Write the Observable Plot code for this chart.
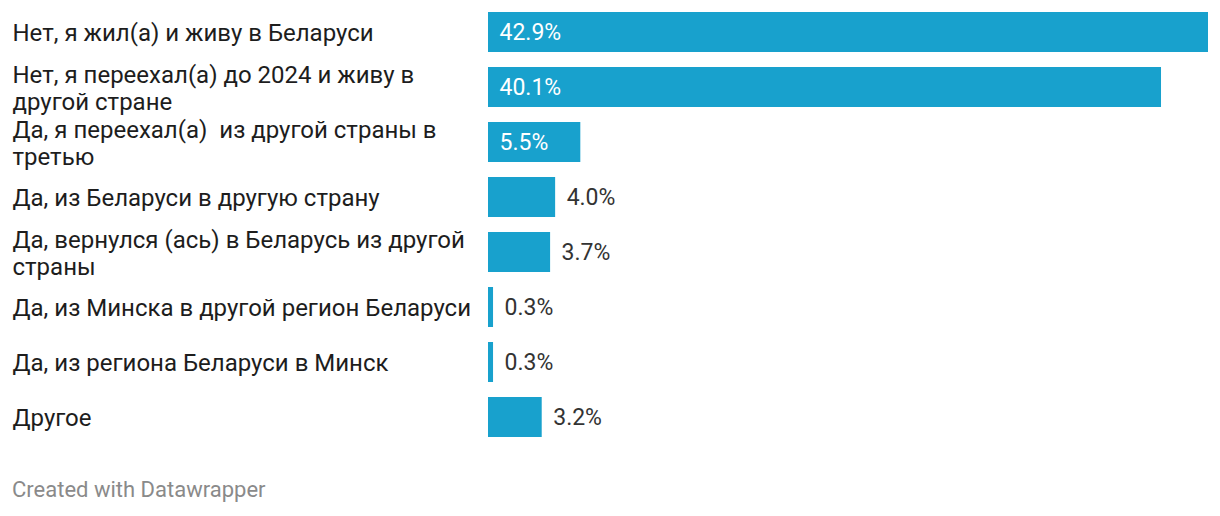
<!DOCTYPE html>
<html><head><meta charset="utf-8">
<script src="https://cdn.jsdelivr.net/npm/d3@7"></script>
<script src="https://cdn.jsdelivr.net/npm/@observablehq/plot@0.6"></script>
<style>
body{margin:0;background:#fff;font-family:Roboto,sans-serif}
#chart svg{display:block}
#footer{margin-top:31px;padding-left:12px;font-family:Roboto,sans-serif;font-size:22px;line-height:26px;color:#8a8a8a}
</style></head>
<body><div id="chart"></div><div id="footer">Created with Datawrapper</div>
<script>
const categories = [
  "Нет, я жил(а) и живу в Беларуси",
  "Нет, я переехал(а) до 2024 и живу в\nдругой стране",
  "Да, я переехал(а)  из другой страны в\nтретью",
  "Да, из Беларуси в другую страну",
  "Да, вернулся (ась) в Беларусь из другой\nстраны",
  "Да, из Минска в другой регион Беларуси",
  "Да, из региона Беларуси в Минск",
  "Другое"
];
const values = [42.9, 40.1, 5.5, 4.0, 3.7, 0.3, 0.3, 3.2];
const valueLabels = ["42.9%", "40.1%", "5.5%", "4.0%", "3.7%", "0.3%", "0.3%", "3.2%"];

const data = categories.map((c, i) => ({category: c, value: values[i], label: valueLabels[i], inside: values[i] >= 5}));
const barColor = "#18a1cd";

const chart = Plot.plot({
  width: 1220, height: 446,
  marginTop: 10, marginBottom: 8, marginLeft: 488, marginRight: 12,
  x: {domain: [0, d3.max(values)], axis: null},
  y: {domain: categories, axis: null, paddingInner: 0.278, paddingOuter: 0},
  style: {fontFamily: "Roboto, sans-serif", fontSize: "22px", background: "#fff"},
  marks: [
    Plot.barX(data, {x: "value", y: "category", fill: barColor}),
    Plot.text(data, {y: "category", text: "category", frameAnchor: "left", textAnchor: "start", dx: -476, fontFamily: "Roboto, sans-serif", fontSize: 24, lineHeight: 1.125, fill: "#1d1d1d"}),
    Plot.text(data.filter(d => d.inside), {x: 0, y: "category", text: "label", textAnchor: "start", dx: 11, fontSize: 23, fill: "#fff"}),
    Plot.text(data.filter(d => !d.inside), {x: "value", y: "category", text: "label", textAnchor: "start", dx: 11, fontSize: 23, fill: "#333"})
  ]
});
document.getElementById("chart").append(chart);
</script>
</body></html>
